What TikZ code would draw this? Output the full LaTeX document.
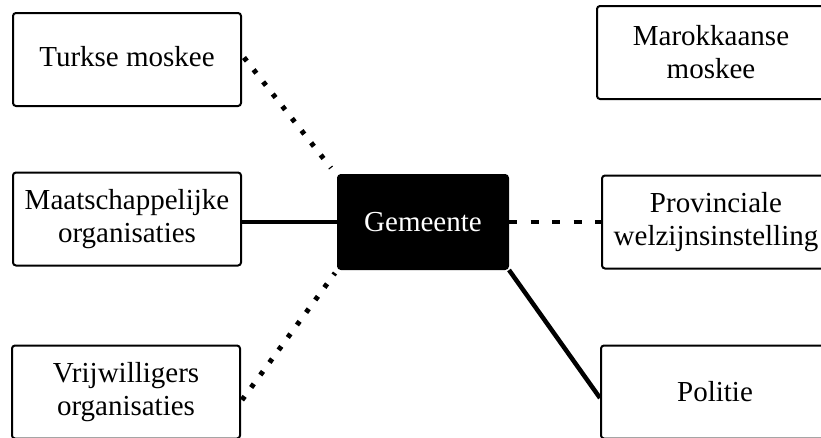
\documentclass[tikz,border=0pt]{standalone}
\usepackage{fontspec}
\setmainfont{Liberation Serif}
\usetikzlibrary{calc}
\tikzset{
  box/.style={draw=black, line width=2pt, rounded corners=3pt, fill=white,
    minimum width=228pt, minimum height=93pt, align=center, inner sep=0pt,
    font=\fontsize{29}{33}\selectfont},
  hub/.style={box, fill=black, text=white, minimum width=170pt, minimum height=94pt},
  solidlink/.style={line width=4.5pt},
  dotlink/.style={line width=5pt, dash pattern=on 4.5pt off 11pt},
  dashlink/.style={line width=4.5pt, dash pattern=on 8pt off 13.5pt}
}
\begin{document}
\begin{tikzpicture}[x=1pt, y=-1pt]
\useasboundingbox (0,0) rectangle (821,437);
\fill[white] (0,0) rectangle (821,437);
\clip (0,0) rectangle (821,437);
\node[box] (tm) at (127,59.5) {\raisebox{6pt}{Turkse moskee}};
\node[box] (ms) at (127,219) {Maatschappelijke\\organisaties};
\node[box] (vw) at (126,392) {Vrijwilligers\\organisaties};
\node[hub] (gm) at (423,222) {Gemeente};
\node[box] (mk) at (711,52.5) {Marokkaanse\\moskee};
\node[box] (pw) at (716,222) {Provinciale\\welzijnsinstelling};
\node[box] (po) at (715,392) {Politie};
\draw[dotlink] ($(tm.east)+(2,-2)$) -- ($(gm.north west)+(-6,-6)$);
\draw[solidlink] (ms.east |- gm.west) -- (gm.west);
\draw[dotlink] ($(vw.east)+(1,8)$) -- ($(gm.north west |- gm.south)+(-2,3)$);
\draw[dashlink] (gm.east) -- (gm.east -| pw.west);
\draw[solidlink] (gm.south east) -- ($(po.west)+(0,6)$);
\end{tikzpicture}
\end{document}
